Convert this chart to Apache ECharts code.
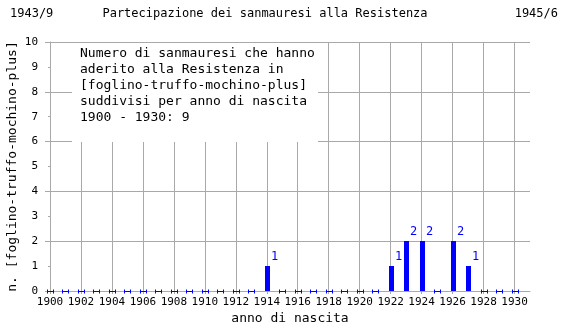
<!DOCTYPE html>
<html><head><meta charset="utf-8">
<script src="https://cdn.jsdelivr.net/npm/echarts@6/dist/echarts.min.js"></script>
<style>html,body{margin:0;background:#fff}#c{width:570px;height:330px}</style>
</head><body><div id="c"></div>
<script>
const years = [1900,1901,1902,1903,1904,1905,1906,1907,1908,1909,1910,1911,1912,1913,1914,1915,1916,1917,1918,1919,1920,1921,1922,1923,1924,1925,1926,1927,1928,1929,1930];
const counts = [0,0,0,0,0,0,0,0,0,0, 0,0,0,0,1,0,0,0,0,0, 0,0,1,2,2,0,2,1,0,0, 0];
const xTickValues = [1900,1902,1904,1906,1908,1910,1912,1914,1916,1918,1920,1922,1924,1926,1928,1930];
const yLabelValues = [0,1,2,3,4,5,6,7,8,9,10];
const yGridValues = [0,2,4,6,8,10];
const titleText = 'Partecipazione dei sanmauresi alla Resistenza';
const startLabel = '1943/9';
const endLabel = '1945/6';
const xName = 'anno di nascita';
const yName = 'n. [foglino-truffo-mochino-plus]';
const noteLines = [
  'Numero di sanmauresi che hanno',
  'aderito alla Resistenza in',
  '[foglino-truffo-mochino-plus]',
  'suddivisi per anno di nascita',
  '1900 - 1930: 9'
];

const FONT = '"DejaVu Sans Mono", monospace';
const BLUE = '#0000ff';
const GRAY = '#a9a9a9';
const data = years.map((y, i) => [y, counts[i]]);

function renderItem(params, api) {
  const x = api.value(0), v = api.value(1);
  const p0 = api.coord([x, 0]);
  const cx = Math.round(p0[0]) + 0.5, cy = Math.round(p0[1]) + 0.5;
  if (v === 0) {
    const ls = {stroke: BLUE, lineWidth: 1};
    return {type: 'group', children: [
      {type: 'line', shape: {x1: cx - 3, y1: cy, x2: cx + 3, y2: cy}, style: ls},
      {type: 'line', shape: {x1: cx - 3, y1: cy - 2, x2: cx - 3, y2: cy + 2}, style: ls},
      {type: 'line', shape: {x1: cx + 3, y1: cy - 2, x2: cx + 3, y2: cy + 2}, style: ls}
    ]};
  }
  const p1 = api.coord([x, v]);
  const top = Math.round(p1[1]);
  return {type: 'group', children: [
    {type: 'rect', shape: {x: Math.round(p0[0]) - 2, y: top, width: 5, height: Math.round(p0[1]) - top}, style: {fill: BLUE}},
    {type: 'text', x: Math.round(p0[0]) + 4, y: top - 3, style: {text: String(v), fill: BLUE, font: '12px ' + FONT, align: 'left', verticalAlign: 'bottom'}}
  ]};
}

const titleStyle = {fontFamily: FONT, fontSize: 12, fontWeight: 'normal', color: '#000'};
const chart = echarts.init(document.getElementById('c'), null, {renderer: 'canvas'});
chart.setOption({
  animation: false,
  backgroundColor: '#fff',
  textStyle: {fontFamily: FONT},
  title: [
    {text: titleText, left: 265, top: 8, padding: 0, textAlign: 'center', textStyle: titleStyle},
    {text: startLabel, left: 10, top: 8, padding: 0, textStyle: titleStyle},
    {text: endLabel, right: 12, top: 8, padding: 0, textStyle: titleStyle}
  ],
  grid: {left: 50, width: 480, top: 42, height: 249, containLabel: false, outerBoundsMode: 'none'},
  xAxis: {
    type: 'value', min: 1900, max: 1931,
    name: xName, nameLocation: 'middle', nameGap: 21, nameMoveOverlap: false,
    nameTextStyle: {fontFamily: FONT, fontSize: 13, color: '#000'},
    axisLine: {show: true, lineStyle: {color: GRAY}},
    axisTick: {show: true, length: 3, customValues: xTickValues, lineStyle: {color: GRAY}},
    axisLabel: {customValues: xTickValues, formatter: v => String(v), hideOverlap: false, showMinLabel: true, showMaxLabel: true, fontFamily: FONT, fontSize: 11, color: '#000', margin: 6},
    splitLine: {show: true, lineStyle: {color: GRAY}}
  },
  yAxis: [
    {
      type: 'value', min: 0, max: 10, position: 'left',
      name: yName, nameLocation: 'middle', nameGap: 31, nameMoveOverlap: false,
      nameTextStyle: {fontFamily: FONT, fontSize: 13, color: '#000'},
      axisLine: {show: true, lineStyle: {color: GRAY}},
      axisTick: {show: true, length: 5, customValues: yGridValues, lineStyle: {color: GRAY}},
      axisLabel: {customValues: yLabelValues, fontFamily: FONT, fontSize: 11, color: '#000', margin: 12},
      splitLine: {show: true, lineStyle: {color: GRAY}}
    },
    {
      type: 'value', min: 0, max: 10, interval: 1, position: 'left', offset: 0,
      axisLine: {show: false},
      axisTick: {show: true, length: 2, lineStyle: {color: GRAY}},
      axisLabel: {show: false},
      splitLine: {show: false}
    }
  ],
  graphic: [
    {type: 'group', left: 72, top: 43, z: 100, children: [
      {type: 'rect', z: 100, shape: {x: 0, y: 0, width: 246, height: 99}, style: {fill: '#fff'}},
      {type: 'text', z: 101, x: 8, y: 3, style: {text: noteLines.join('\n'), font: '13px ' + FONT, fill: '#000', lineHeight: 16}}
    ]}
  ],
  series: [{
    type: 'custom', renderItem: renderItem, data: data, clip: false,
    encode: {x: 0, y: 1}
  }]
});
</script>
</body></html>
